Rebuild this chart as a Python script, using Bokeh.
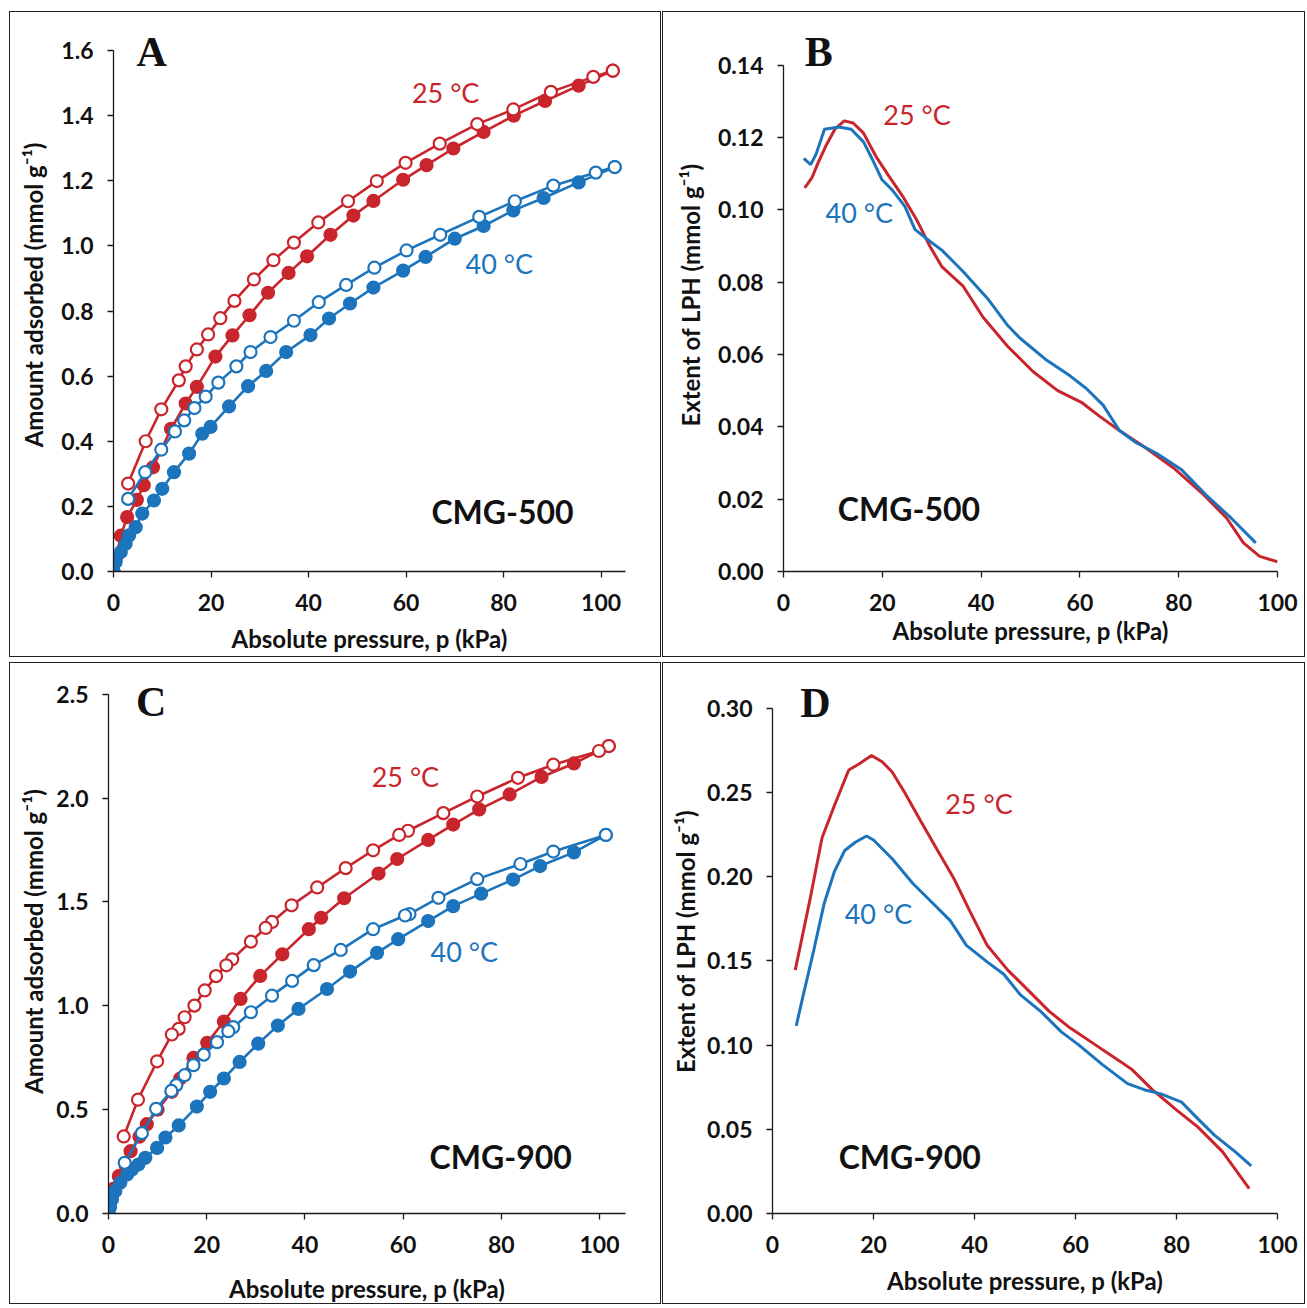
from bokeh.plotting import figure
from bokeh.models import Label, Range1d, FixedTicker, NumeralTickFormatter
from bokeh.layouts import column, row
from bokeh.embed import file_html
from bokeh.resources import INLINE

RED = "#C8252C"
BLUE = "#1C74BC"

# ---------------- Panel A (CMG-500 isotherms) ----------------
A_25_ads_p = [0, 0.5, 1.5, 2.8, 4.8, 6.2, 8.1, 11.8, 14.8, 17.1, 20.9, 24.4, 27.9, 31.7, 35.9, 39.7, 44.5, 49.2, 53.3, 59.4, 64.2, 69.7, 75.9, 82.1, 88.5, 95.4, 102.4]
A_25_ads_q = [0, 0.04, 0.11, 0.167, 0.22, 0.265, 0.32, 0.438, 0.516, 0.567, 0.66, 0.725, 0.787, 0.856, 0.917, 0.968, 1.034, 1.093, 1.138, 1.203, 1.248, 1.299, 1.35, 1.40, 1.445, 1.492, 1.538]
A_25_des_p = [102.4, 98.4, 89.7, 82.0, 74.6, 66.9, 59.9, 54.0, 48.1, 42.0, 37.0, 32.8, 28.8, 24.8, 21.9, 19.4, 17.1, 14.8, 13.4, 9.8, 6.6, 3.0]
A_25_des_q = [1.538, 1.519, 1.473, 1.419, 1.374, 1.314, 1.255, 1.199, 1.137, 1.072, 1.010, 0.956, 0.897, 0.831, 0.778, 0.728, 0.682, 0.630, 0.587, 0.498, 0.40, 0.27]
A_40_ads_p = [0, 0.45, 1.5, 2.5, 3.2, 4.55, 5.9, 8.3, 10.0, 12.4, 15.5, 18.2, 19.9, 23.7, 27.6, 31.3, 35.4, 40.4, 44.2, 48.5, 53.3, 59.4, 64.0, 70.0, 75.9, 82.0, 88.2, 95.4, 102.8]
A_40_ads_q = [0, 0.029, 0.06, 0.085, 0.111, 0.136, 0.178, 0.218, 0.254, 0.305, 0.362, 0.423, 0.444, 0.507, 0.569, 0.616, 0.674, 0.726, 0.777, 0.823, 0.872, 0.924, 0.966, 1.022, 1.061, 1.109, 1.147, 1.195, 1.242]
A_40_des_p = [102.8, 98.9, 90.2, 82.3, 75.0, 67.0, 60.1, 53.5, 47.7, 42.1, 37.0, 32.2, 28.1, 25.2, 21.5, 18.9, 16.6, 14.5, 12.6, 9.8, 6.5, 3.0]
A_40_des_q = [1.242, 1.225, 1.185, 1.137, 1.089, 1.034, 0.986, 0.933, 0.880, 0.827, 0.770, 0.720, 0.674, 0.630, 0.580, 0.537, 0.502, 0.464, 0.430, 0.374, 0.305, 0.223]

# ---------------- Panel B (CMG-500 LPH) ----------------
B_25_p = [4.3, 5.8, 7.0, 8.7, 10.4, 12.3, 14.1, 16.2, 18.7, 21.2, 24.1, 27.1, 29.6, 32.1, 36.3, 40.4, 45.4, 50.5, 55.5, 60.5, 63.8, 68.0, 73.0, 78.9, 84.7, 89.7, 93.1, 96.4, 100.0]
B_25_q = [0.1061, 0.109, 0.113, 0.118, 0.1223, 0.1246, 0.124, 0.1212, 0.1148, 0.1096, 0.1038, 0.0969, 0.090, 0.0842, 0.079, 0.0703, 0.0622, 0.0553, 0.050, 0.0466, 0.0431, 0.039, 0.0345, 0.0287, 0.0217, 0.0148, 0.0079, 0.0042, 0.0027]
B_40_p = [4.1, 5.5, 6.6, 8.3, 11.2, 13.7, 16.2, 17.9, 19.9, 22.0, 24.6, 26.6, 28.7, 32.1, 36.3, 41.3, 45.4, 47.9, 53.0, 58.0, 61.3, 64.7, 68.0, 71.4, 75.5, 80.6, 85.5, 90.6, 95.6]
B_40_q = [0.1142, 0.1125, 0.1154, 0.1223, 0.1229, 0.1223, 0.1188, 0.1142, 0.1084, 0.1055, 0.1009, 0.0946, 0.0923, 0.0888, 0.083, 0.0755, 0.068, 0.0645, 0.0587, 0.0541, 0.0506, 0.046, 0.039, 0.0356, 0.0327, 0.0281, 0.0212, 0.0148, 0.0079]

# ---------------- Panel C (CMG-900 isotherms) ----------------
C_25_ads_p = [0, 0.4, 1.1, 2.1, 3.5, 4.5, 6.3, 7.8, 10.0, 12.9, 14.6, 17.3, 20.1, 23.5, 26.9, 30.9, 35.4, 40.8, 43.3, 48.0, 55.0, 58.8, 65.1, 70.2, 75.5, 81.7, 88.2, 94.8, 101.9]
C_25_ads_q = [0, 0.06, 0.12, 0.18, 0.23, 0.30, 0.37, 0.43, 0.50, 0.586, 0.65, 0.749, 0.822, 0.924, 1.033, 1.144, 1.248, 1.369, 1.424, 1.518, 1.637, 1.707, 1.799, 1.873, 1.946, 2.018, 2.102, 2.167, 2.251]
C_25_des_p = [101.9, 99.9, 90.6, 83.4, 75.1, 68.2, 61.0, 59.2, 53.9, 48.3, 42.5, 37.3, 33.3, 32.0, 29.0, 25.2, 24.0, 21.9, 19.6, 17.5, 15.5, 14.3, 12.9, 9.9, 6.0, 3.1]
C_25_des_q = [2.251, 2.227, 2.161, 2.098, 2.008, 1.928, 1.843, 1.823, 1.749, 1.663, 1.570, 1.484, 1.404, 1.375, 1.309, 1.224, 1.195, 1.143, 1.074, 1.001, 0.945, 0.889, 0.862, 0.733, 0.548, 0.371]
C_40_ads_p = [0, 0.3, 0.7, 1.4, 2.4, 3.8, 4.8, 6.1, 7.5, 9.9, 11.6, 14.3, 18.0, 20.7, 23.5, 26.7, 30.5, 34.5, 38.7, 44.5, 49.2, 54.7, 59.0, 65.1, 70.2, 75.9, 82.4, 87.9, 94.8, 101.3]
C_40_ads_q = [0, 0.03, 0.068, 0.108, 0.148, 0.188, 0.212, 0.236, 0.268, 0.316, 0.366, 0.424, 0.515, 0.586, 0.65, 0.73, 0.818, 0.905, 0.985, 1.081, 1.165, 1.255, 1.321, 1.408, 1.48, 1.54, 1.608, 1.673, 1.739, 1.823]
C_40_des_p = [101.3, 90.6, 83.9, 75.1, 67.2, 61.3, 60.4, 53.9, 47.3, 41.8, 37.4, 33.3, 29.0, 25.4, 24.4, 22.1, 19.4, 17.3, 15.5, 13.8, 12.8, 9.7, 6.8, 3.3]
C_40_des_q = [1.823, 1.743, 1.683, 1.610, 1.520, 1.442, 1.435, 1.369, 1.269, 1.196, 1.120, 1.049, 0.969, 0.897, 0.878, 0.825, 0.765, 0.714, 0.666, 0.618, 0.590, 0.504, 0.387, 0.244]

# ---------------- Panel D (CMG-900 LPH) ----------------
D_25_p = [4.5, 5.7, 7.4, 9.8, 12.3, 15.1, 17.2, 19.6, 21.7, 23.7, 26.2, 29.4, 32.7, 36.0, 39.2, 42.5, 46.6, 50.7, 54.8, 58.9, 63.8, 68.7, 71.1, 75.2, 80.1, 84.2, 89.1, 94.4]
D_25_q = [0.1445, 0.1616, 0.186, 0.2229, 0.2425, 0.2633, 0.267, 0.2719, 0.2682, 0.2621, 0.2498, 0.2327, 0.2155, 0.1984, 0.1788, 0.1592, 0.1445, 0.1323, 0.12, 0.1102, 0.1004, 0.0906, 0.0857, 0.0735, 0.0612, 0.0514, 0.0367, 0.0147]
D_40_p = [4.7, 6.1, 8.2, 10.2, 12.3, 14.3, 16.4, 18.6, 20.0, 23.7, 27.8, 31.1, 35.2, 38.4, 42.5, 45.8, 49.1, 53.1, 57.2, 60.5, 65.4, 70.3, 73.6, 76.9, 81.0, 84.2, 87.5, 91.6, 94.8]
D_40_q = [0.1114, 0.1298, 0.1567, 0.1837, 0.2033, 0.2155, 0.2204, 0.2241, 0.2217, 0.2106, 0.1959, 0.1861, 0.1739, 0.1592, 0.1494, 0.142, 0.1298, 0.12, 0.1078, 0.1004, 0.0882, 0.0771, 0.0735, 0.071, 0.0661, 0.0563, 0.0465, 0.0367, 0.0282]

X_TICKS = [0, 20, 40, 60, 80, 100]
A_Y_TICKS = [0.0, 0.2, 0.4, 0.6, 0.8, 1.0, 1.2, 1.4, 1.6]
B_Y_TICKS = [0.00, 0.02, 0.04, 0.06, 0.08, 0.10, 0.12, 0.14]
C_Y_TICKS = [0.0, 0.5, 1.0, 1.5, 2.0, 2.5]
D_Y_TICKS = [0.00, 0.05, 0.10, 0.15, 0.20, 0.25, 0.30]

XLABEL = "Absolute pressure, p (kPa)"
YLABEL_ISO = "Amount adsorbed (mmol g\u207b\u00b9)"
YLABEL_LPH = "Extent of LPH (mmol g\u207b\u00b9)"

FONT = "Lato"
TOP_PAD = 6  # frame extends this far below the panel's top edge


def make_panel(width, height, frame, xr, ymax, yticks, yfmt, ylabel,
               y_std, y_lab_std, x_std, x_lab_std):
    left, top, fw, fh = frame
    extra = top - TOP_PAD
    y_end = ymax * (fh + extra) / fh
    p = figure(width=width, height=height, output_backend="svg", toolbar_location=None,
               x_range=Range1d(*xr), y_range=Range1d(0, y_end),
               min_border_left=left, min_border_top=TOP_PAD,
               min_border_right=width - left - fw, min_border_bottom=height - top - fh)
    p.outline_line_color = None
    p.xgrid.visible = False
    p.ygrid.visible = False
    p.background_fill_color = "white"
    p.border_fill_color = "white"
    p.styles = {"border": "1px solid #222"}
    for ax in (p.xaxis[0], p.yaxis[0]):
        ax.axis_line_color = "#1a1a1a"
        ax.axis_line_width = 1.3
        ax.major_tick_line_color = "#1a1a1a"
        ax.major_tick_line_width = 1.3
        ax.major_tick_out = 6
        ax.major_tick_in = 0
        ax.minor_tick_line_color = None
        ax.major_label_text_font = FONT
        ax.major_label_text_font_style = "bold"
        ax.major_label_text_font_size = "23px"
        ax.major_label_text_color = "#111111"
        ax.axis_label_text_font = FONT
        ax.axis_label_text_font_style = "bold"
        ax.axis_label_text_font_size = "24px"
        ax.axis_label_text_color = "#111111"
    p.xaxis[0].ticker = FixedTicker(ticks=X_TICKS)
    p.xaxis[0].formatter = NumeralTickFormatter(format="0")
    p.xaxis[0].axis_label = XLABEL
    p.xaxis[0].major_label_standoff = x_std
    p.xaxis[0].axis_label_standoff = x_lab_std
    p.xaxis[0].bounds = (xr[0], xr[1])
    p.yaxis[0].ticker = FixedTicker(ticks=yticks)
    p.yaxis[0].formatter = NumeralTickFormatter(format=yfmt)
    p.yaxis[0].axis_label = ylabel
    p.yaxis[0].major_label_standoff = y_std
    p.yaxis[0].axis_label_standoff = y_lab_std
    p.yaxis[0].bounds = (0, ymax)
    return p


def add_iso(p, xs, ys, color, filled):
    p.line(xs, ys, line_color=color, line_width=2.6)
    p.scatter(xs, ys, size=12, marker="circle", line_color=color, line_width=2.2,
              fill_color=color if filled else "white")


def add_label(p, x, y, text, color, size, font=FONT, style="normal"):
    p.add_layout(Label(x=x, y=y, text=text, text_color=color, text_font=font,
                       text_font_size=size, text_font_style=style,
                       text_baseline="middle", text_align="left"))


LETTER = "42px"

# Panel A
pA = make_panel(652, 646, (103, 38, 512, 521), (0, 105), 1.6, A_Y_TICKS, "0.0",
                YLABEL_ISO, 14, 10, 16, 10)
add_iso(pA, A_25_ads_p, A_25_ads_q, RED, True)
add_iso(pA, A_25_des_p, A_25_des_q, RED, False)
add_iso(pA, A_40_ads_p, A_40_ads_q, BLUE, True)
add_iso(pA, A_40_des_p, A_40_des_q, BLUE, False)
add_label(pA, 4.7, 1.595, "A", "#111111", LETTER, "Liberation Serif", "bold")
add_label(pA, 61.2, 1.472, "25 \u00b0C", RED, "27px")
add_label(pA, 72.2, 0.946, "40 \u00b0C", BLUE, "27px")
add_label(pA, 65.2, 0.183, "CMG-500", "#111111", "32px", FONT, "bold")

# Panel B
pB = make_panel(643, 646, (120, 53, 494, 510), (0, 100), 0.14, B_Y_TICKS, "0.00",
                YLABEL_LPH, 14, 10, 16, 2)
pB.line(B_25_p, B_25_q, line_color=RED, line_width=3)
pB.line(B_40_p, B_40_q, line_color=BLUE, line_width=3)
add_label(pB, 4.3, 0.1437, "B", "#111111", LETTER, "Liberation Serif", "bold")
add_label(pB, 20.2, 0.1264, "25 \u00b0C", RED, "27px")
add_label(pB, 8.5, 0.0992, "40 \u00b0C", BLUE, "27px")
add_label(pB, 11.0, 0.01736, "CMG-500", "#111111", "32px", FONT, "bold")

# Panel C
pC = make_panel(652, 642, (98, 31, 517, 523), (0, 105.3), 2.5, C_Y_TICKS, "0.0",
                YLABEL_ISO, 14, 5, 16, 18)
add_iso(pC, C_25_ads_p, C_25_ads_q, RED, True)
add_iso(pC, C_25_des_p, C_25_des_q, RED, False)
add_iso(pC, C_40_ads_p, C_40_ads_q, BLUE, True)
add_iso(pC, C_40_des_p, C_40_des_q, BLUE, False)
add_label(pC, 5.6, 2.465, "C", "#111111", LETTER, "Liberation Serif", "bold")
add_label(pC, 53.6, 2.106, "25 \u00b0C", RED, "27px")
add_label(pC, 65.6, 1.26, "40 \u00b0C", BLUE, "27px")
add_label(pC, 65.4, 0.2735, "CMG-900", "#111111", "32px", FONT, "bold")

# Panel D
pD = make_panel(643, 642, (109, 45, 505, 510), (0, 100), 0.30, D_Y_TICKS, "0.00",
                YLABEL_LPH, 14, 4, 16, 10)
pD.line(D_25_p, D_25_q, line_color=RED, line_width=3)
pD.line(D_40_p, D_40_q, line_color=BLUE, line_width=3)
add_label(pD, 5.5, 0.303, "D", "#111111", LETTER, "Liberation Serif", "bold")
add_label(pD, 34.2, 0.2434, "25 \u00b0C", RED, "27px")
add_label(pD, 14.3, 0.178, "40 \u00b0C", BLUE, "27px")
add_label(pD, 13.1, 0.0336, "CMG-900", "#111111", "32px", FONT, "bold")

layout = column(row(pA, pB, spacing=1), row(pC, pD, spacing=1), spacing=5,
                margin=(11, 0, 0, 9))

with open("out.html", "w") as f:
    f.write(file_html(layout, INLINE))
